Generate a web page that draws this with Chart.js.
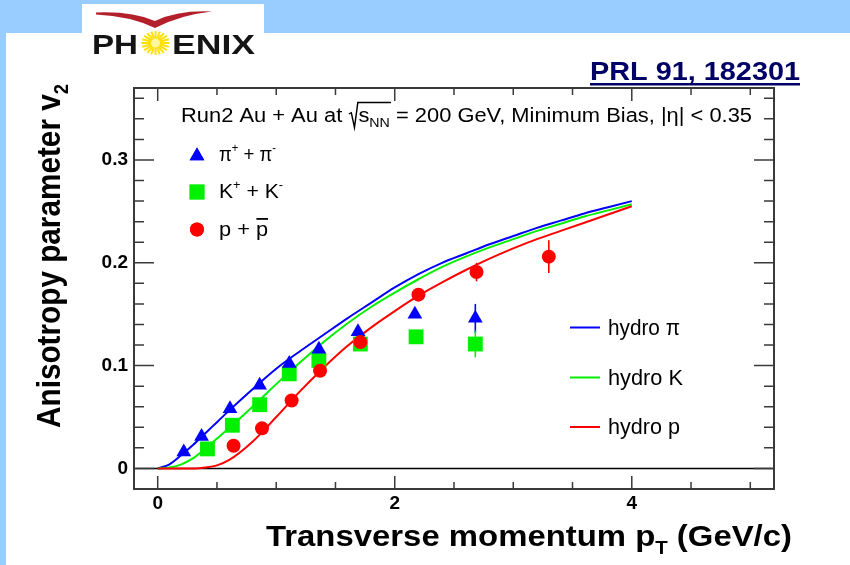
<!DOCTYPE html>
<html><head><meta charset="utf-8">
<script src="https://cdn.jsdelivr.net/npm/chart.js@4.4.0/dist/chart.umd.min.js"></script>
<style>html,body{margin:0;padding:0;background:#99CCFF;overflow:hidden}#wrap{position:absolute;left:0;top:0;width:850px;height:565px}</style>
</head><body><div id="wrap"><canvas id="c" width="850" height="565"></canvas></div>
<script>
// ---------- data ----------
const pionPt   = [0.22, 0.37, 0.61, 0.86, 1.11, 1.36, 1.69, 2.17, 2.68];
const pionV2   = [0.016, 0.031, 0.058, 0.081, 0.102, 0.116, 0.133, 0.150, 0.146];
const pionErr  = [0, 0, 0, 0, 0, 0, 0, 0.002, 0.014];
const kaonPt   = [0.42, 0.63, 0.86, 1.11, 1.36, 1.71, 2.18, 2.68];
const kaonV2   = [0.019, 0.042, 0.062, 0.092, 0.105, 0.121, 0.128, 0.121];
const kaonErr  = [0, 0, 0, 0, 0, 0, 0.002, 0.013];
const protonPt = [0.64, 0.88, 1.13, 1.37, 1.71, 2.20, 2.69, 3.30];
const protonV2 = [0.022, 0.039, 0.066, 0.095, 0.123, 0.169, 0.191, 0.206];
const protonErr= [0, 0, 0, 0, 0, 0.004, 0.009, 0.016];
const hydroPt  = [0, 0.1, 0.2, 0.3, 0.4, 0.5, 0.6, 0.8, 1.0, 1.2, 1.4, 1.6, 1.8, 2.0, 2.2, 2.4, 2.6, 2.8, 3.0, 3.2, 3.4, 3.6, 3.8, 4.0];
const hydroPi  = [0, 0.004, 0.013, 0.023, 0.034, 0.045, 0.056, 0.077, 0.097, 0.114, 0.130, 0.146, 0.161, 0.176, 0.189, 0.200, 0.209, 0.218, 0.226, 0.234, 0.241, 0.248, 0.254, 0.260];
const hydroK   = [0, 0.001, 0.004, 0.010, 0.019, 0.029, 0.039, 0.060, 0.082, 0.103, 0.123, 0.141, 0.157, 0.171, 0.184, 0.196, 0.206, 0.215, 0.223, 0.231, 0.238, 0.245, 0.251, 0.257];
const hydroP   = [0, 0, 0, 0, 0.001, 0.003, 0.008, 0.026, 0.050, 0.075, 0.098, 0.119, 0.137, 0.153, 0.168, 0.181, 0.193, 0.204, 0.214, 0.223, 0.231, 0.239, 0.247, 0.255];
const xTickLabels = [0, 2, 4];
const yTickLabels = [0, 0.1, 0.2, 0.3];
const xMinorStep = 0.5, xMajorStep = 2, xTickMax = 5;
const yMinorStep = 0.02, yMajorStep = 0.1, yTickMax = 0.36;

const FONT = "'Liberation Sans', Arial, Helvetica, sans-serif";
const BLUE = '#0000FF', GREEN = '#00F000', RED = '#FF0000';

function pts(xs, ys){ return xs.map((x,i)=>({x:x, y:ys[i]})); }

// draw a sequence of text runs, optionally stretched to a target width
function drawRuns(ctx, x, y, runs, size, weight, target, color){
  ctx.save();
  ctx.fillStyle = color; ctx.strokeStyle = color;
  ctx.textBaseline = 'alphabetic'; ctx.textAlign = 'left';
  const ws = []; let total = 0;
  for (const r of runs){
    let w;
    if (r.t !== undefined){ ctx.font = weight+' '+(size*(r.k||1))+'px '+FONT; w = ctx.measureText(r.t).width; }
    else w = r.gap;
    ws.push(w); total += w;
  }
  const sx = target ? target/total : 1;
  ctx.translate(x, y); ctx.scale(sx, 1);
  let cx = 0; const pos = [];
  runs.forEach((r,i)=>{
    pos.push(cx);
    if (r.t !== undefined){ ctx.font = weight+' '+(size*(r.k||1))+'px '+FONT; ctx.fillText(r.t, cx, (r.dy||0)*size); }
    cx += ws[i];
  });
  runs.forEach(r=>{ if (r.after) r.after(ctx, pos, ws, size); });
  ctx.restore();
}

function marker(ctx, style, r, x, y, color){
  ctx.save();
  ctx.fillStyle = color; ctx.strokeStyle = color;
  Chart.helpers.drawPoint(ctx, {pointStyle: style, radius: r, rotation: 0, borderWidth: 0}, x, y);
  ctx.fill();
  ctx.restore();
}

const bgPlugin = {
  id: 'bg',
  beforeDraw(chart){
    const ctx = chart.ctx;
    ctx.save();
    ctx.fillStyle = '#99CCFF'; ctx.fillRect(0,0,850,565);
    ctx.fillStyle = '#FFFFFF'; ctx.fillRect(6,33,844,532);
    // logo box
    ctx.fillRect(82,4,182,62);
    // red wing
    ctx.fillStyle = '#B3202C';
    ctx.beginPath();
    ctx.moveTo(96,12.5);
    ctx.quadraticCurveTo(132,11,155,21);
    ctx.quadraticCurveTo(178,10,212,11.5);
    ctx.quadraticCurveTo(180,15,155,28);
    ctx.quadraticCurveTo(130,16,96,14.5);
    ctx.closePath(); ctx.fill();
    // sun
    const sxc = 155.5, syc = 43;
    ctx.strokeStyle = '#FFE000'; ctx.lineWidth = 2;
    for (let i=0;i<20;i++){
      const a = i*Math.PI*2/20;
      ctx.beginPath();
      ctx.moveTo(sxc+Math.cos(a)*4, syc+Math.sin(a)*4);
      ctx.lineTo(sxc+Math.cos(a)*14, syc+Math.sin(a)*12);
      ctx.stroke();
    }
    ctx.fillStyle = '#FFF6A0';
    ctx.beginPath(); ctx.arc(sxc,syc,4.5,0,Math.PI*2); ctx.fill();
    ctx.restore();
    drawRuns(ctx, 92, 54, [{t:'PH'}], 28, 'bold', 46, '#141414');
    drawRuns(ctx, 172, 54, [{t:'ENIX'}], 28, 'bold', 83, '#141414');
    // reference
    drawRuns(ctx, 590, 80, [{t:'PRL 91, 182301'}], 25, 'bold', 210, '#000066');
    ctx.save(); ctx.fillStyle = '#000066'; ctx.fillRect(590,83,210,2.5); ctx.restore();
  }
};

const decoPlugin = {
  id: 'deco',
  beforeDatasetsDraw(chart){
    const ctx = chart.ctx, xs = chart.scales.x, ys = chart.scales.y, a = chart.chartArea;
    ctx.save();
    // zero line
    ctx.strokeStyle = '#000'; ctx.lineWidth = 1.5;
    const y0 = ys.getPixelForValue(0);
    ctx.beginPath(); ctx.moveTo(a.left, y0); ctx.lineTo(a.right, y0); ctx.stroke();
    // error bars
    const sets = [[protonPt, protonV2, protonErr, RED],[pionPt, pionV2, pionErr, BLUE],[kaonPt, kaonV2, kaonErr, GREEN]];
    ctx.lineWidth = 1.6;
    for (const [px, py, pe, col] of sets){
      ctx.strokeStyle = col;
      px.forEach((x,i)=>{
        if (!pe[i]) return;
        const X = xs.getPixelForValue(x);
        ctx.beginPath();
        ctx.moveTo(X, ys.getPixelForValue(py[i]-pe[i]));
        ctx.lineTo(X, ys.getPixelForValue(py[i]+pe[i]));
        ctx.stroke();
      });
    }
    ctx.restore();
  },
  afterDraw(chart){
    const ctx = chart.ctx, xs = chart.scales.x, ys = chart.scales.y, a = chart.chartArea;
    ctx.save();
    // frame
    ctx.strokeStyle = '#3a3a3a'; ctx.lineWidth = 2;
    ctx.strokeRect(a.left, a.top, a.right-a.left, a.bottom-a.top);
    // ticks (inward, all four sides)
    ctx.lineWidth = 1.5;
    const nx = Math.round(xTickMax/xMinorStep);
    for (let i=0;i<=nx;i++){
      const v = i*xMinorStep;
      const major = Math.abs(v/xMajorStep - Math.round(v/xMajorStep)) < 1e-6;
      const L = major ? 13 : 7;
      const X = xs.getPixelForValue(v);
      ctx.beginPath();
      ctx.moveTo(X, a.bottom); ctx.lineTo(X, a.bottom-L);
      ctx.moveTo(X, a.top); ctx.lineTo(X, a.top+L);
      ctx.stroke();
    }
    const ny = Math.round(yTickMax/yMinorStep);
    for (let i=0;i<=ny;i++){
      const v = i*yMinorStep;
      const major = Math.abs(v/yMajorStep - Math.round(v/yMajorStep)) < 1e-6;
      const L = major ? 20 : 10;
      const Y = ys.getPixelForValue(v);
      ctx.beginPath();
      ctx.moveTo(a.left, Y); ctx.lineTo(a.left+L, Y);
      ctx.moveTo(a.right, Y); ctx.lineTo(a.right-L, Y);
      ctx.stroke();
    }
    ctx.restore();

    // title line
    drawRuns(ctx, 181, 122, [
      {t:'Run2 Au + Au at '},
      {gap: 9},
      {t:'s'},
      {t:'NN', k:0.65, dy:0.25},
      {t:' = 200 GeV, Minimum Bias, |\u03B7| < 0.35', after(c,pos,ws,size){
        c.save(); c.lineWidth = 1.3; c.lineJoin = 'miter';
        const r0 = pos[1] + 0.5, end = pos[3] + ws[3] + 1;
        c.beginPath();
        c.moveTo(r0, -8); c.lineTo(r0+2.2, -9.3); c.lineTo(r0+5, 5.5); c.lineTo(r0+8, -19.5); c.lineTo(end, -19.5);
        c.stroke(); c.restore();
      }}
    ], 19.5, 'normal', 571, '#000');

    // particle legend
    marker(ctx, 'triangle', 8.5, 197, 156, BLUE);
    marker(ctx, 'rect', 10.5, 197, 192, GREEN);
    marker(ctx, 'circle', 7, 197, 229.5, RED);
    drawRuns(ctx, 219, 161, [{t:'\u03C0'},{t:'+',k:0.6,dy:-0.42},{t:' + \u03C0'},{t:'-',k:0.6,dy:-0.42}], 21, 'normal', 57, '#000');
    drawRuns(ctx, 219, 198, [{t:'K'},{t:'+',k:0.6,dy:-0.42},{t:' + K'},{t:'-',k:0.6,dy:-0.42}], 21, 'normal', 64, '#000');
    drawRuns(ctx, 219, 236, [{t:'p + '},{t:'p', after(c,pos,ws,size){
      c.save(); c.fillRect(pos[1]+0.5, -18, ws[1]-0.5, 1.8); c.restore();
    }}], 21, 'normal', 49, '#000');

    // hydro legend
    const hl = [[BLUE, 327.5, 'hydro \u03C0', 334.5, 72],[GREEN, 377.5, 'hydro K', 384.5, 75],[RED, 427, 'hydro p', 434, 72]];
    for (const [col, ly, label, by, w] of hl){
      ctx.save(); ctx.strokeStyle = col; ctx.lineWidth = 2;
      ctx.beginPath(); ctx.moveTo(570, ly); ctx.lineTo(600, ly); ctx.stroke(); ctx.restore();
      drawRuns(ctx, 608, by, [{t:label}], 22, 'normal', w, '#000');
    }

    // axis titles
    drawRuns(ctx, 266, 546, [{t:'Transverse momentum p'},{t:'T',k:0.62,dy:0.27},{t:' (GeV/c)'}], 30, 'bold', 526, '#000');
    ctx.save();
    ctx.translate(59.5, 428); ctx.scale(1.12, 1); ctx.rotate(-Math.PI/2);
    drawRuns(ctx, 0, 0, [{t:'Anisotropy parameter v'},{t:'2',k:0.62,dy:0.27}], 29.5, 'bold', 344, '#000');
    ctx.restore();
  }
};

const tickFont = {family: FONT, size: 19, weight: 'bold'};

new Chart(document.getElementById('c'), {
  type: 'scatter',
  data: {
    datasets: [
      {label:'p + pbar', data: pts(protonPt, protonV2), pointStyle:'circle', pointRadius:7, backgroundColor:RED, borderColor:RED, borderWidth:0},
      {label:'pi+ + pi-', data: pts(pionPt, pionV2), pointStyle:'triangle', pointRadius:8.5, backgroundColor:BLUE, borderColor:BLUE, borderWidth:0},
      {label:'K+ + K-', data: pts(kaonPt, kaonV2), pointStyle:'rect', pointRadius:10.5, backgroundColor:GREEN, borderColor:GREEN, borderWidth:0},
      {label:'hydro p', data: pts(hydroPt, hydroP), showLine:true, pointRadius:0, borderColor:RED, borderWidth:2, cubicInterpolationMode:'monotone', fill:false},
      {label:'hydro K', data: pts(hydroPt, hydroK), showLine:true, pointRadius:0, borderColor:GREEN, borderWidth:2, cubicInterpolationMode:'monotone', fill:false},
      {label:'hydro pi', data: pts(hydroPt, hydroPi), showLine:true, pointRadius:0, borderColor:BLUE, borderWidth:2, cubicInterpolationMode:'monotone', fill:false}
    ]
  },
  options: {
    responsive: false, animation: false, devicePixelRatio: 1,
    layout: {padding: {top: 88, right: 76, left: 0, bottom: 0}},
    plugins: {legend: {display: false}, tooltip: {enabled: false}, title: {display: false}},
    events: [],
    scales: {
      x: {
        type: 'linear', min: -0.2, max: 5.2,
        grid: {display: false, drawTicks: false}, border: {display: false},
        afterBuildTicks: s => { s.ticks = xTickLabels.map(v => ({value: v})); },
        afterFit: s => { s.height = 76; },
        ticks: {font: tickFont, color: '#000', padding: 3, maxRotation: 0, autoSkip: false, callback: v => String(v)}
      },
      y: {
        type: 'linear', min: -0.02, max: 0.37,
        grid: {display: false, drawTicks: false}, border: {display: false},
        afterBuildTicks: s => { s.ticks = yTickLabels.map(v => ({value: v})); },
        afterFit: s => { s.width = 134; },
        ticks: {font: tickFont, color: '#000', padding: 6, autoSkip: false, callback: v => (v === 0 ? '0' : v.toFixed(1))}
      }
    }
  },
  plugins: [bgPlugin, decoPlugin]
});
</script>
</body></html>
